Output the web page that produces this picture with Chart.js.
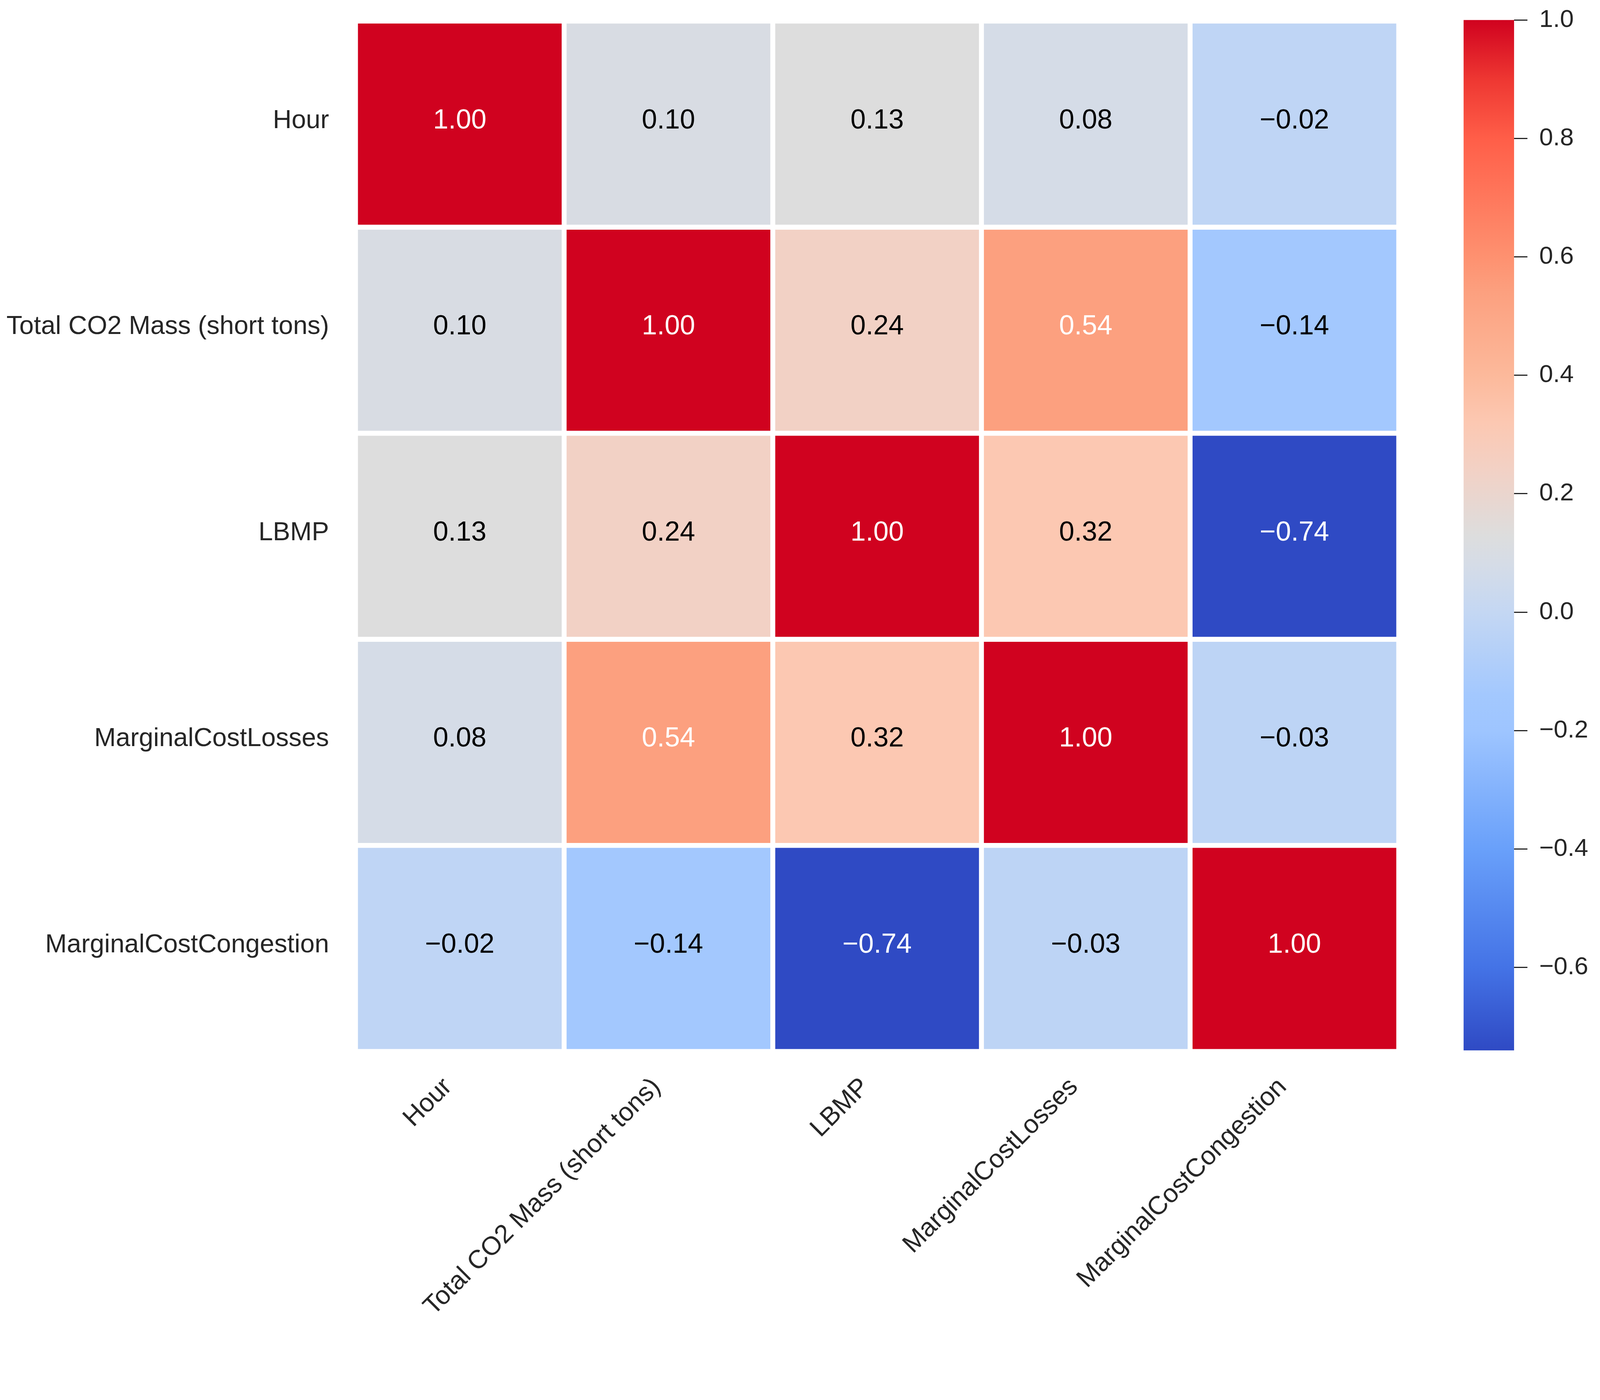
<!DOCTYPE html>
<html>
<head>
<meta charset="utf-8">
<script src="https://cdn.jsdelivr.net/npm/chart.js@4.4.1/dist/chart.umd.min.js"></script>
<style>
  html, body { margin: 0; padding: 0; background: #fff; overflow: hidden; }
  canvas { position: absolute; top: 0; }
</style>
</head>
<body>
<canvas id="heat"></canvas>
<canvas id="cbar"></canvas>
<script>
// etiquetas
const rowLabels = ['Hour', 'Total CO2 Mass (short tons)', 'LBMP', 'MarginalCostLosses', 'MarginalCostCongestion'];
const columnLabels = ['Hour', 'Total CO2 Mass (short tons)', 'LBMP', 'MarginalCostLosses', 'MarginalCostCongestion'];

// correlaciones por fila
const hourCorr = [1.00, 0.10, 0.13, 0.08, -0.02];
const co2Corr = [0.10, 1.00, 0.24, 0.54, -0.14];
const lbmpCorr = [0.13, 0.24, 1.00, 0.32, -0.74];
const lossesCorr = [0.08, 0.54, 0.32, 1.00, -0.03];
const congestionCorr = [-0.02, -0.14, -0.74, -0.03, 1.00];
const corrRows = [hourCorr, co2Corr, lbmpCorr, lossesCorr, congestionCorr];

const colorbarTicks = [-0.6, -0.4, -0.2, 0.0, 0.2, 0.4, 0.6, 0.8, 1.0];

const allValues = corrRows.flat();
const vmin = Math.min(...allValues);
const vmax = Math.max(...allValues);

// paleta tipo coolwarm (valor -> rgb)
const cmapStops = [
  [-0.74, [47, 74, 196]],
  [-0.6, [68, 115, 230]],
  [-0.4, [105, 160, 250]],
  [-0.2, [158, 197, 255]],
  [-0.14, [163, 200, 254]],
  [0.0, [196, 215, 243]],
  [0.08, [213, 220, 231]],
  [0.13, [221, 221, 221]],
  [0.24, [242, 209, 197]],
  [0.32, [252, 200, 178]],
  [0.4, [252, 185, 155]],
  [0.54, [252, 160, 127]],
  [0.6, [254, 145, 112]],
  [0.8, [255, 94, 72]],
  [0.9, [238, 55, 50]],
  [1.0, [208, 2, 31]]
];

const FONT = "'Liberation Sans', Arial, sans-serif";
const TEXT_COLOR = '#262626';

// todo se diseña a 4321x3584 y se escala a la ventana real
const S = Math.min(window.innerWidth / 4321, window.innerHeight / 3584) || 1;
const px = v => v * S;

const heatCanvas = document.getElementById('heat');
const cbarCanvas = document.getElementById('cbar');
heatCanvas.width = Math.round(px(3850));
heatCanvas.height = Math.round(px(3584));
heatCanvas.style.left = '0px';
cbarCanvas.width = Math.round(px(471));
cbarCanvas.height = Math.round(px(3584));
cbarCanvas.style.left = px(3850) + 'px';

function colorFor(v) {
  if (v <= cmapStops[0][0]) return cmapStops[0][1];
  for (let i = 1; i < cmapStops.length; i++) {
    const [v1, c1] = cmapStops[i];
    const [v0, c0] = cmapStops[i - 1];
    if (v <= v1) {
      const t = (v - v0) / (v1 - v0);
      return c0.map((x, k) => Math.round(x + (c1[k] - x) * t));
    }
  }
  return cmapStops[cmapStops.length - 1][1];
}

function rgb(c) {
  return `rgb(${c[0]}, ${c[1]}, ${c[2]})`;
}

function luminance(c) {
  const lin = c.map(x => {
    x = x / 255;
    return x <= 0.03928 ? x / 12.92 : Math.pow((x + 0.055) / 1.055, 2.4);
  });
  return 0.2126 * lin[0] + 0.7152 * lin[1] + 0.0722 * lin[2];
}

function fmt(v, digits) {
  return v.toFixed(digits).replace('-', '\u2212');
}

// anotaciones dentro de cada celda
const annotate = {
  id: 'annotate',
  afterDatasetsDraw(chart) {
    const { ctx, scales } = chart;
    ctx.save();
    ctx.font = `${px(74)}px ${FONT}`;
    ctx.textAlign = 'center';
    ctx.textBaseline = 'middle';
    corrRows.forEach((row, r) => {
      row.forEach((v, c) => {
        const x = scales.x.getPixelForValue(c);
        const y = scales.y.getPixelForValue(r + 0.5);
        ctx.fillStyle = luminance(colorFor(v)) < 0.5 ? '#ffffff' : '#000000';
        ctx.fillText(fmt(v, 2), x, y - px(9));
      });
    });
    ctx.restore();
  }
};

const heatDatasets = corrRows.map((row, r) => ({
  label: rowLabels[r],
  data: row.map(() => [r, r + 1]),
  backgroundColor: row.map(v => rgb(colorFor(v))),
  borderColor: '#ffffff',
  borderWidth: px(7),
  borderSkipped: false,
  grouped: false,
  barPercentage: 1,
  categoryPercentage: 1
}));

new Chart(heatCanvas.getContext('2d'), {
  type: 'bar',
  data: { labels: columnLabels, datasets: heatDatasets },
  plugins: [annotate],
  options: {
    responsive: false,
    animation: false,
    layout: { padding: { left: 0, right: px(73), top: px(57), bottom: 0 } },
    plugins: { legend: { display: false }, tooltip: { enabled: false } },
    scales: {
      x: {
        type: 'category',
        grid: { display: false },
        border: { display: false },
        afterFit: s => {
          s.height = px(744);
          s.paddingLeft = 0;
          s.paddingRight = 0;
        },
        ticks: {
          autoSkip: false,
          minRotation: 45,
          maxRotation: 45,
          labelOffset: px(-32),
          padding: px(47),
          color: TEXT_COLOR,
          font: { family: FONT, size: px(70) }
        }
      },
      y: {
        type: 'linear',
        min: 0,
        max: rowLabels.length,
        reverse: true,
        grid: { display: false },
        border: { display: false },
        afterFit: s => {
          s.width = px(960);
          s.paddingTop = 0;
          s.paddingBottom = 0;
        },
        afterBuildTicks: s => { s.ticks = rowLabels.map((_, i) => ({ value: i + 0.5 })); },
        ticks: {
          autoSkip: false,
          padding: px(63),
          labelOffset: px(-9),
          color: TEXT_COLOR,
          font: { family: FONT, size: px(70) },
          callback: (value, index) => rowLabels[index]
        }
      }
    }
  }
});

// barra de color
function gradientFill(context) {
  const chart = context.chart;
  if (!chart.chartArea) return null;
  const y = chart.scales.y;
  const top = y.getPixelForValue(vmax);
  const bottom = y.getPixelForValue(vmin);
  const g = chart.ctx.createLinearGradient(0, top, 0, bottom);
  cmapStops.forEach(([v, c]) => {
    const off = (vmax - v) / (vmax - vmin);
    g.addColorStop(Math.min(1, Math.max(0, off)), rgb(c));
  });
  return g;
}

new Chart(cbarCanvas.getContext('2d'), {
  type: 'bar',
  data: {
    labels: ['cbar'],
    datasets: [{
      data: [[vmin, vmax]],
      backgroundColor: gradientFill,
      borderWidth: 0,
      barPercentage: 1,
      categoryPercentage: 1
    }]
  },
  options: {
    responsive: false,
    animation: false,
    layout: { padding: { left: px(102), right: 0, top: px(54), bottom: px(747) } },
    plugins: { legend: { display: false }, tooltip: { enabled: false } },
    scales: {
      x: { display: false },
      y: {
        position: 'right',
        min: vmin,
        max: vmax,
        border: { display: false },
        grid: {
          drawOnChartArea: false,
          drawTicks: true,
          tickLength: px(36),
          tickColor: TEXT_COLOR,
          tickWidth: px(3)
        },
        afterFit: s => {
          s.width = px(232);
          s.paddingTop = 0;
          s.paddingBottom = 0;
        },
        afterBuildTicks: s => { s.ticks = colorbarTicks.map(v => ({ value: v })); },
        ticks: {
          padding: px(32),
          color: TEXT_COLOR,
          font: { family: FONT, size: px(67) },
          callback: v => fmt(v, 1)
        }
      }
    }
  }
});
</script>
</body>
</html>
